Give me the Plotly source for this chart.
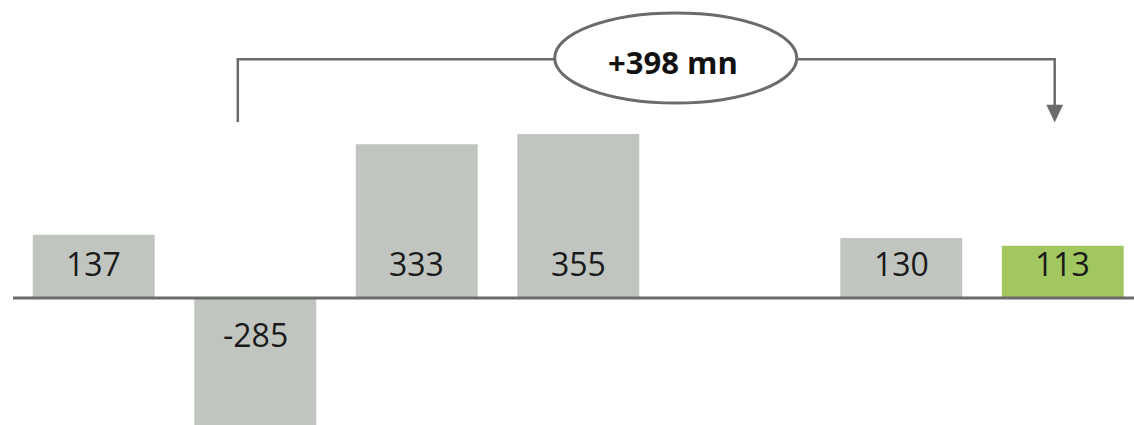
import plotly.graph_objects as go

# Bar chart data: one gap slot between the 355 and 130 bars
categories = [0, 1, 2, 3, 4, 5, 6]
values = [137, -285, 333, 355, None, 130, 113]
labels = ["137", "-285", "333", "355", "", "130", "113"]
bar_colors = ["#c1c5bf", "#c1c5bf", "#c1c5bf", "#c1c5bf", "#c1c5bf", "#c1c5bf", "#a2c760"]
bracket_text = "+398 mn"

LINE = "#6b6b6b"
FONT = "Open Sans"

fig = go.Figure(
    go.Bar(
        x=categories,
        y=values,
        marker=dict(color=bar_colors, line=dict(width=0)),
        width=0.755,
        hoverinfo="skip",
    )
)

# value labels sitting just above/below the baseline
for x, v, t in zip(categories, values, labels):
    if v is None:
        continue
    fig.add_annotation(
        x=x, y=0, text=t, showarrow=False,
        yshift=34 if v >= 0 else -37,
        font=dict(family=FONT, size=32, color="#1a1a1a"),
        xanchor="center", yanchor="middle",
    )

# baseline
fig.add_shape(type="line", xref="paper", x0=0, x1=1, y0=0, y1=0,
              line=dict(color=LINE, width=3), layer="above")

# bracket from bar 2 to bar 7 with a label bubble
px_x = 161.5   # pixels per category
px_y = 0.462   # pixels per value unit
bx0, bx1 = 0.892, 5.95
by_low, by_top, by_arrow = 381, 517, 381
ex0, ex1, ey0, ey1 = 2.854, 4.353, 422, 617

fig.add_shape(type="path",
              path=f"M {bx0} {by_low} L {bx0} {by_top} L {ex0} {by_top}",
              line=dict(color=LINE, width=2.5))
fig.add_shape(type="path",
              path=f"M {ex1} {by_top} L {bx1} {by_top} L {bx1} {by_arrow + 16 / px_y}",
              line=dict(color=LINE, width=2.5))
hw = 8 / px_x
hh = 17 / px_y
fig.add_shape(type="path",
              path=f"M {bx1 - hw} {by_arrow + hh} L {bx1 + hw} {by_arrow + hh} L {bx1} {by_arrow} Z",
              fillcolor=LINE, line=dict(color=LINE, width=0.5))
fig.add_shape(type="circle", x0=ex0, x1=ex1, y0=ey0, y1=ey1,
              fillcolor="white", line=dict(color=LINE, width=3))
fig.add_annotation(x=(ex0 + ex1) / 2 - 0.02, y=(ey0 + ey1) / 2 - 8, text=f"<b>{bracket_text}</b>",
                   showarrow=False,
                   font=dict(family=FONT, size=31, color="#111111"))

fig.update_layout(
    width=1134, height=425,
    margin=dict(l=13, r=0, t=0, b=0),
    paper_bgcolor="white", plot_bgcolor="white",
    showlegend=False,
    xaxis=dict(range=[-0.5, 6.441], visible=False, fixedrange=True),
    yaxis=dict(range=[-275, 645], visible=False, fixedrange=True),
)

fig.write_html("out.html", config={"displayModeBar": False})
